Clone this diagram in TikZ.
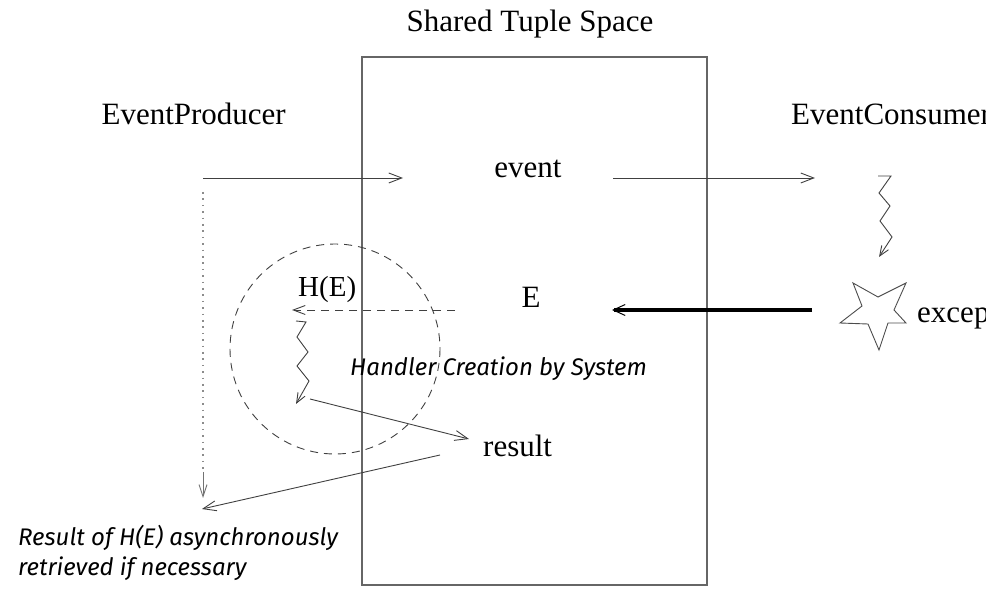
\documentclass[tikz,border=0pt]{standalone}
\usepackage{fontspec}
\setmainfont{Liberation Serif}
\newfontfamily\itfont{Fira Sans Italic}
\usetikzlibrary{arrows.meta}
\tikzset{
  lbl/.style={inner sep=0pt, font=\fontsize{31}{34}\selectfont},
  itlbl/.style={inner sep=0pt, font=\itfont\fontsize{24}{28}\selectfont, anchor=base west},
  conn/.style={draw=black!75, line width=0.9pt, -{Straight Barb[length=13pt,width=10pt]}},
  thickconn/.style={draw=black, line width=3.5pt, -{Straight Barb[length=12pt,width=11pt,line width=1pt]}},
  dashconn/.style={draw=black!75, line width=0.9pt, dash pattern=on 8pt off 6pt, -{Straight Barb[length=12pt,width=9pt,line width=0.9pt]}},
  dotconn/.style={draw=black!45, line width=1.6pt, dash pattern=on 1.6pt off 4.8pt, line cap=butt},
  zig/.style={draw=black!75, line width=0.9pt, -{Straight Barb[length=10pt,width=8pt]}},
  space/.style={draw=black!60, line width=1.2pt},
}
\begin{document}
\begin{tikzpicture}[x=1pt,y=-1pt]
\useasboundingbox (0,0) rectangle (986,593);
% tuple space box
\draw[space] (362,57) rectangle (707,585);
\node[lbl, anchor=base] (title) at (530,32) {Shared Tuple Space};
\node[lbl, anchor=base east] (prod) at (286,125) {EventProducer};
\node[lbl, anchor=base west] (cons) at (791,125) {EventConsumer};
\node[lbl, anchor=base] (event) at (528,178) {event};
\node[lbl, anchor=base] (E) at (531,308) {E};
\node[lbl, anchor=base west, font=\fontsize{29}{32}\selectfont] (HE) at (298,297) {H(E)};
\node[lbl, anchor=base west] (result) at (483,457) {result};
\node[lbl, anchor=base west] (exc) at (917,323) {exception};
\node[itlbl] (handler) at (350,376) {Handler Creation by System};
\node[itlbl] (res1) at (18,545) {Result of H(E) asynchronously};
\node[itlbl] (res2) at (18,576) {retrieved if necessary};
% coordinates
\coordinate (pstart) at (203,178);
\coordinate (ein) at (403,178);
\coordinate (eout) at (613,178);
\coordinate (cin) at (815,178);
\coordinate (ztop) at (878,176);
\coordinate (zbot) at (879,257);
\coordinate (starL) at (812,310);
\coordinate (Eright) at (612,310);
\coordinate (Hstart) at (455,310);
\coordinate (Hend) at (292,310);
\coordinate (lztop) at (296,321);
\coordinate (lzbot) at (296,404);
\coordinate (rs) at (310,399);
\coordinate (rin) at (469,439);
\coordinate (rout) at (440,455);
\coordinate (pend) at (202,509);
\coordinate (dtop) at (203,192);
\coordinate (dbot) at (203,472);
\coordinate (dtip) at (203,498);
% event flow
\draw[conn] (pstart) -- (ein);
\draw[conn] (eout) -- (cin);
% zigzag at consumer
\draw[zig] (ztop) -- (891,176) -- (879,193) -- (890,206) -- (880,221) -- (892,237) -- (zbot);
% star
\draw[draw=black!70, line width=0.9pt, line join=miter]
  (853,283) -- (878,297) -- (906,283) -- (894,310) -- (906,323) -- (888,323)
  -- (879,350) -- (868,324) -- (840,323) -- (862,306) -- cycle;
% thick exception arrow
\draw[thickconn] (starL) -- (Eright);
% dashed handler creation arrow
\draw[dashconn] (Hstart) -- (Hend);
% dashed circle
\draw[draw=black!75, line width=0.9pt, dash pattern=on 8pt off 6pt] (335,349) circle[radius=105];
% left zigzag
\draw[zig] (lztop) -- (306,322) -- (297,337) -- (308,352) -- (297,366) -- (309,381) -- (lzbot);
% result arrows
\draw[conn] (rs) -- (rin);
\draw[conn] (rout) -- (pend);
% dotted retrieval
\draw[dotconn] (dtop) -- (dbot);
\draw[draw=black!55, line width=0.9pt, -{Straight Barb[length=12pt,width=8pt]}] (dbot) -- (dtip);
\end{tikzpicture}
\end{document}
